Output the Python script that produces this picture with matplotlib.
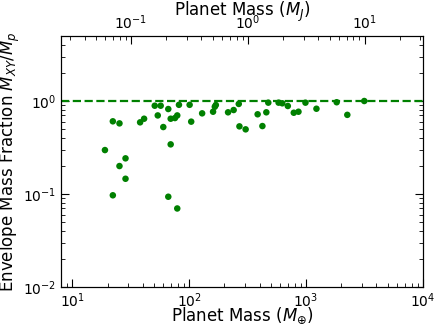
import numpy as np
import matplotlib
matplotlib.use('Agg')
import matplotlib.pyplot as plt

# planet masses in Earth masses and envelope mass fractions
m_planet = [22.2, 25.3, 19.0, 25.3, 28.5, 28.5, 22.2, 38.0, 41.1, 50.7,
            57.0, 53.8, 60.0, 66.2, 69.4, 75.5, 79.0, 81.7, 69.4, 66.2,
            79.0, 100.8, 104., 129., 160., 169., 165.6, 215., 240., 265.5,
            269., 304., 385., 423., 457., 475., 582., 626., 698., 785.,
            861., 988., 1227., 1828., 2254., 3148.]
f_env = [0.605, 0.575, 0.297, 0.20, 0.242, 0.146, 0.097, 0.59, 0.645, 0.89,
         0.89, 0.70, 0.525, 0.82, 0.645, 0.656, 0.70, 0.91, 0.342, 0.0936,
         0.070, 0.91, 0.60, 0.737, 0.767, 0.906, 0.868, 0.756, 0.80, 0.93,
         0.534, 0.496, 0.72, 0.538, 0.756, 0.96, 0.96, 0.945, 0.884, 0.748,
         0.767, 0.96, 0.826, 0.97, 0.71, 1.0]

M_JUP = 317.8
xlim = (8., 1e4)

fig = plt.figure(figsize=(4.36, 3.27), dpi=100)
ax = fig.add_axes([0.140, 0.122, 0.830, 0.768])

ax.scatter(m_planet, f_env, s=22, c='green', edgecolors='none', zorder=3)
ax.axhline(1.0, color='green', ls='--', lw=1.6, zorder=2)

ax.set_xscale('log')
ax.set_yscale('log')
ax.set_xlim(*xlim)
ax.set_ylim(1e-2, 5.)
ax.set_xlabel(r'Planet Mass ($M_{\oplus}$)', fontsize=12, labelpad=-3)
ax.set_ylabel(r'Envelope Mass Fraction $M_{XY}/M_p$', fontsize=12, labelpad=1)
ax.tick_params(which='both', direction='in', right=True, labelsize=10)
ax.tick_params(axis='x', pad=3)
ax.tick_params(which='major', length=6)
ax.tick_params(which='minor', length=3)

ax2 = ax.twiny()
ax2.set_xscale('log')
ax2.set_xlim(xlim[0] / M_JUP, xlim[1] / M_JUP)
ax2.set_xlabel(r'Planet Mass ($M_J$)', fontsize=12, labelpad=-2)
ax2.tick_params(which='both', direction='in', labelsize=10, pad=3)
ax2.tick_params(which='major', length=6)
ax2.tick_params(which='minor', length=3)

fig.savefig('out.png', dpi=100)
